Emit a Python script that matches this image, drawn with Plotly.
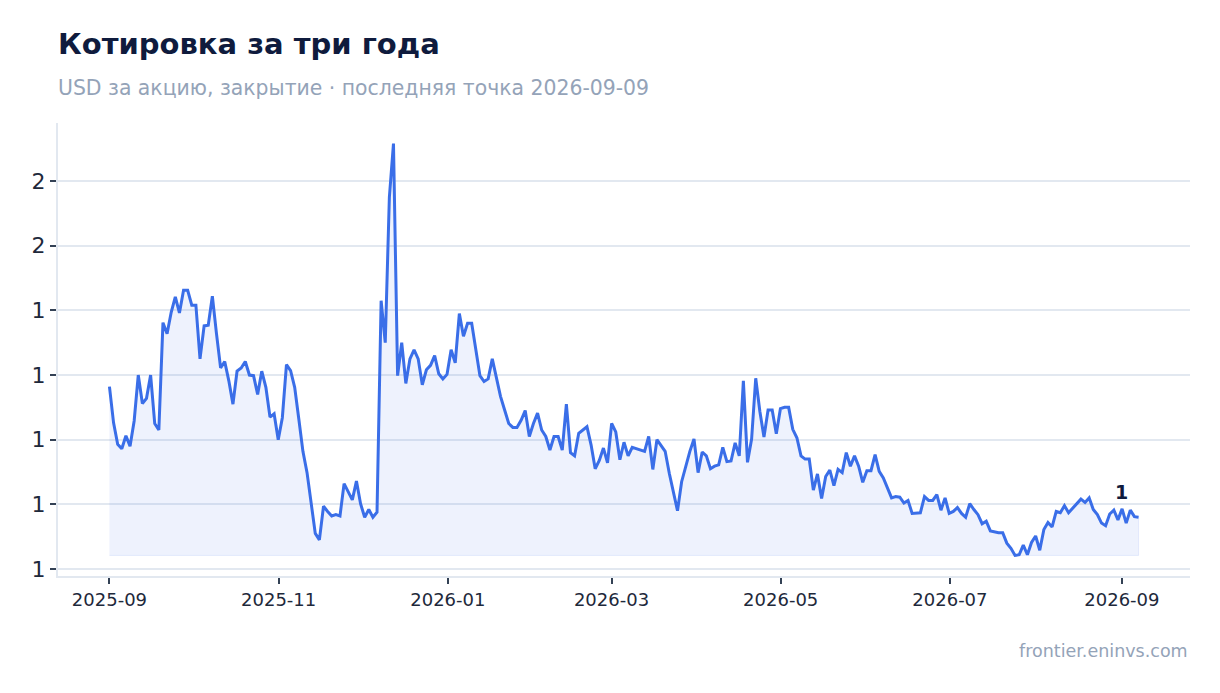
import pandas as pd
import plotly.graph_objects as go

# close prices, USD per share
prices = [
    1.282, 1.226, 1.193, 1.186, 1.206, 1.190, 1.229, 1.300, 1.256, 1.264,
    1.300, 1.225, 1.215, 1.381, 1.364, 1.397, 1.421, 1.396, 1.431, 1.431,
    1.408, 1.408, 1.325, 1.376, 1.377, 1.422, 1.364, 1.311, 1.321, 1.291,
    1.255, 1.306, 1.311, 1.321, 1.300, 1.299, 1.270, 1.306, 1.281, 1.235,
    1.240, 1.200, 1.234, 1.316, 1.307, 1.281, 1.232, 1.182, 1.149, 1.105,
    1.055, 1.045, 1.097, 1.089, 1.082, 1.084, 1.082, 1.132, 1.120, 1.107,
    1.136, 1.101, 1.080, 1.092, 1.080, 1.088, 1.415, 1.350, 1.575, 1.658,
    1.299, 1.350, 1.287, 1.325, 1.339, 1.325, 1.285, 1.308, 1.315, 1.330,
    1.302, 1.294, 1.301, 1.339, 1.319, 1.395, 1.360, 1.380, 1.380, 1.339,
    1.299, 1.290, 1.294, 1.325, 1.294, 1.267, 1.246, 1.225, 1.219, 1.219,
    1.230, 1.245, 1.205, 1.225, 1.241, 1.215, 1.205, 1.184, 1.205, 1.205,
    1.184, 1.255, 1.180, 1.175, 1.210, 1.215, 1.220, 1.192, 1.155, 1.168,
    1.187, 1.164, 1.225, 1.212, 1.169, 1.196, 1.175, 1.188, 1.186, 1.185,
    1.182, 1.205, 1.154, 1.200, 1.190, 1.182, 1.148, 1.118, 1.090, 1.135,
    1.159, 1.182, 1.201, 1.149, 1.181, 1.175, 1.155, 1.159, 1.161, 1.188,
    1.166, 1.167, 1.195, 1.175, 1.291, 1.165, 1.201, 1.295, 1.244, 1.204,
    1.246, 1.246, 1.209, 1.248, 1.250, 1.250, 1.216, 1.203, 1.175, 1.170,
    1.170, 1.122, 1.147, 1.109, 1.143, 1.153, 1.129, 1.154, 1.149, 1.180,
    1.159, 1.175, 1.159, 1.134, 1.152, 1.152, 1.177, 1.151, 1.141, 1.125,
    1.110, 1.112, 1.111, 1.102, 1.106, 1.086, 1.086, 1.087, 1.112, 1.106,
    1.106, 1.115, 1.091, 1.110, 1.086, 1.089, 1.095, 1.086, 1.080, 1.101,
    1.092, 1.084, 1.070, 1.074, 1.059, 1.057, 1.056, 1.056, 1.040, 1.032,
    1.021, 1.022, 1.037, 1.022, 1.041, 1.051, 1.029, 1.061, 1.072, 1.065,
    1.089, 1.087, 1.098, 1.087, 1.094, 1.101, 1.108, 1.103, 1.110, 1.092,
    1.084, 1.071, 1.067, 1.085, 1.091, 1.076, 1.093, 1.071, 1.091, 1.081,
    1.080,
]
first_date = "2025-09-01"
last_date = "2026-09-07"
last_point_label = "2026-09-09"

title = "Котировка за три года"
subtitle = f"USD за акцию, закрытие · последняя точка {last_point_label}"
source = "frontier.eninvs.com"

LINE = "#3a6ee8"
NAVY = "#0f1b3d"
MUTED = "#94a3b8"
GRID = "#e2e8f0"
FONT = "DejaVu Sans"

dates = pd.date_range(first_date, last_date, periods=len(prices))
base = min(prices)

span_y = max(prices) - min(prices)
pad_x = (dates[-1] - dates[0]) * 0.05

fig = go.Figure()
# shaded area between the series and its minimum
fig.add_trace(go.Scatter(
    x=list(dates) + list(dates[::-1]),
    y=prices + [base] * len(prices),
    fill="toself",
    fillcolor="rgba(58,110,232,0.085)",
    line=dict(color="rgba(58,110,232,0.10)", width=1),
    hoverinfo="skip",
    showlegend=False,
))
fig.add_trace(go.Scatter(
    x=dates, y=prices, mode="lines",
    line=dict(color=LINE, width=3),
    showlegend=False,
))

fig.add_annotation(
    x=dates[-1], y=prices[-1], text=f"<b>{prices[-1]:.0f}</b>",
    showarrow=False, xanchor="right", yanchor="bottom", xshift=-9, yshift=12,
    font=dict(family=FONT, size=19, color=NAVY),
)
fig.add_annotation(
    xref="paper", yref="paper", x=0, y=1.175, xanchor="left", yanchor="middle",
    xshift=-2, text=f"<b>{title}</b>", showarrow=False,
    font=dict(family=FONT, size=29, color=NAVY),
)
fig.add_annotation(
    xref="paper", yref="paper", x=0, y=1.078, xanchor="left", yanchor="middle",
    xshift=-2, text=subtitle, showarrow=False,
    font=dict(family=FONT, size=20.4, color=MUTED),
)
fig.add_annotation(
    xref="paper", yref="paper", x=1, y=-0.1665, xanchor="right", yanchor="middle",
    text=source, showarrow=False,
    font=dict(family=FONT, size=17.5, color=MUTED),
)

fig.update_layout(
    width=1220, height=693,
    margin=dict(l=50, r=38, t=115, b=125),
    paper_bgcolor="white", plot_bgcolor="white",
    font=dict(family=FONT, color="#1e293b"),
    xaxis=dict(
        type="date",
        range=[dates[0] - pad_x, dates[-1] + pad_x],
        dtick="M2", tick0=first_date, tickformat="%Y-%m",
        showgrid=False, showline=True, linecolor=GRID, linewidth=2,
        ticks="outside", ticklen=6, tickwidth=2, tickcolor="#334155",
        tickfont=dict(size=18, color="#1e293b"),
    ),
    yaxis=dict(
        range=[min(prices) - 0.05 * span_y, max(prices) + 0.05 * span_y],
        dtick=0.1, tick0=1.0, tickformat=".0f",
        showgrid=True, gridcolor=GRID, gridwidth=1.5, zeroline=False,
        showline=True, linecolor=GRID, linewidth=2,
        ticks="outside", ticklen=6, tickwidth=2, tickcolor="#334155",
        tickfont=dict(size=22, color="#1e293b"),
    ),
)

fig.write_html("out.html")
